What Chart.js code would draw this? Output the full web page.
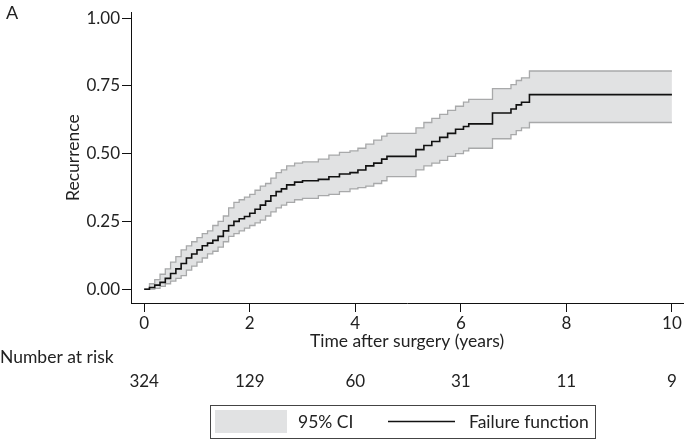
<!DOCTYPE html>
<html>
<head>
<meta charset="utf-8">
<script src="https://cdn.jsdelivr.net/npm/chart.js@4"></script>
<style>
  html, body { margin: 0; padding: 0; background: #fff; }
  #wrap { width: 687px; height: 444px; position: relative; }
</style>
</head>
<body>
<div id="wrap"><canvas id="myChart"></canvas></div>
<script>
// event times (years) and step values
const times = [0, 0.1, 0.2, 0.3, 0.4, 0.5, 0.6, 0.7, 0.8, 0.9, 1.0, 1.1, 1.2, 1.3, 1.4, 1.5, 1.6, 1.7, 1.8, 1.9,
  2.0, 2.1, 2.2, 2.3, 2.4, 2.5, 2.6, 2.7, 2.85, 3.0, 3.3, 3.5, 3.7, 3.9, 4.05, 4.2, 4.35, 4.5, 4.6,
  5.15, 5.3, 5.45, 5.6, 5.75, 5.9, 6.05, 6.15, 6.6, 6.95, 7.05, 7.15, 7.3, 10];
const failure = [0, 0.006, 0.015, 0.025, 0.04, 0.058, 0.075, 0.095, 0.115, 0.13, 0.145, 0.16, 0.17, 0.18, 0.195, 0.215, 0.235, 0.25, 0.26, 0.268,
  0.28, 0.295, 0.31, 0.325, 0.345, 0.36, 0.37, 0.385, 0.395, 0.40, 0.405, 0.415, 0.425, 0.43, 0.44, 0.455, 0.465, 0.48, 0.49,
  0.515, 0.53, 0.545, 0.56, 0.575, 0.59, 0.60, 0.61, 0.65, 0.665, 0.68, 0.69, 0.718, 0.718];
const ciHigh = [0, 0.02, 0.035, 0.055, 0.075, 0.10, 0.12, 0.145, 0.16, 0.175, 0.19, 0.205, 0.215, 0.235, 0.25, 0.27, 0.30, 0.32, 0.33, 0.34,
  0.35, 0.365, 0.38, 0.39, 0.41, 0.43, 0.44, 0.455, 0.465, 0.47, 0.48, 0.495, 0.505, 0.51, 0.52, 0.535, 0.55, 0.565, 0.575,
  0.595, 0.615, 0.63, 0.645, 0.66, 0.675, 0.69, 0.70, 0.74, 0.755, 0.77, 0.78, 0.805, 0.805];
const ciLow = [0, 0, 0.003, 0.01, 0.02, 0.03, 0.04, 0.05, 0.07, 0.085, 0.10, 0.115, 0.13, 0.14, 0.155, 0.175, 0.195, 0.205, 0.215, 0.225,
  0.235, 0.245, 0.255, 0.27, 0.285, 0.30, 0.31, 0.32, 0.33, 0.335, 0.345, 0.35, 0.36, 0.37, 0.375, 0.38, 0.39, 0.40, 0.415,
  0.44, 0.455, 0.465, 0.475, 0.49, 0.50, 0.51, 0.52, 0.555, 0.57, 0.585, 0.595, 0.615, 0.615];

const xTicks = [0, 2, 4, 6, 8, 10];
const yTicks = [0, 0.25, 0.5, 0.75, 1];
const atRisk = [324, 129, 60, 31, 11, 9];

const FONT = 'Lato, "Open Sans", sans-serif';
const TXT = '#222';
const BAND = '#e1e2e3';

function pts(vals) {
  return times.map(function (t, i) { return { x: t, y: vals[i] }; });
}

// number at risk row, the legend box and the panel letter
const extras = {
  id: 'extras',
  afterDraw(chart) {
    const ctx = chart.ctx;
    const x = chart.scales.x;
    ctx.save();
    ctx.fillStyle = TXT;
    ctx.font = '18px ' + FONT;
    ctx.textBaseline = 'middle';
    ctx.textAlign = 'left';
    ctx.fillText('A', 6, 13);
    ctx.font = '17.5px ' + FONT;
    ctx.fillText('Number at risk', 0, 357);
    ctx.textAlign = 'center';
    ctx.font = '17px ' + FONT;
    atRisk.forEach(function (n, i) {
      ctx.fillText(String(n), x.getPixelForValue(xTicks[i]), 382);
    });
    // legend
    ctx.strokeStyle = '#444';
    ctx.lineWidth = 1;
    ctx.strokeRect(210.5, 405.5, 385, 33);
    ctx.fillStyle = BAND;
    ctx.fillRect(215, 410, 72, 23);
    ctx.strokeStyle = '#111';
    ctx.lineWidth = 1.5;
    ctx.beginPath();
    ctx.moveTo(388, 421.5);
    ctx.lineTo(455, 421.5);
    ctx.stroke();
    ctx.fillStyle = TXT;
    ctx.textAlign = 'left';
    ctx.font = '17.5px ' + FONT;
    ctx.fillText('95% CI', 298, 422);
    ctx.fillText('Failure function', 469, 422);
    ctx.restore();
  }
};

const ctx = document.getElementById('myChart').getContext('2d');
const myChart = new Chart(ctx, {
  type: 'line',
  data: {
    datasets: [{
      label: '95% CI upper',
      data: pts(ciHigh),
      stepped: 'before',
      borderColor: '#a8a9aa',
      borderWidth: 1.3,
      backgroundColor: BAND,
      fill: '+1',
      pointRadius: 0,
      order: 2
    }, {
      label: '95% CI lower',
      data: pts(ciLow),
      stepped: 'before',
      borderColor: '#a8a9aa',
      borderWidth: 1.3,
      fill: false,
      pointRadius: 0,
      order: 1
    }, {
      label: 'Failure function',
      data: pts(failure),
      stepped: 'before',
      borderColor: '#111',
      borderWidth: 1.6,
      fill: false,
      pointRadius: 0,
      order: 0
    }]
  },
  plugins: [extras],
  options: {
    responsive: true,
    maintainAspectRatio: false,
    animation: false,
    layout: { padding: { top: 10, right: 4, left: 0, bottom: 81 } },
    plugins: {
      legend: { display: false },
      tooltip: { enabled: false }
    },
    scales: {
      x: {
        type: 'linear',
        min: -0.25,
        max: 10.21,
        afterFit: function (s) { s.height = 60; },
        afterBuildTicks: function (s) { s.ticks = xTicks.map(function (v) { return { value: v }; }); },
        grid: { drawOnChartArea: false, drawTicks: true, tickLength: 9, color: '#111' },
        border: { display: true, color: '#111', width: 1 },
        ticks: { color: TXT, font: { family: FONT, size: 17 }, padding: 1, maxRotation: 0 },
        title: {
          display: true,
          text: 'Time after surgery (years)',
          color: TXT,
          font: { family: FONT, size: 17.5 },
          padding: { top: 0, bottom: 11 }
        }
      },
      y: {
        min: -0.051,
        max: 1.022,
        afterFit: function (s) { s.width = 131; },
        afterBuildTicks: function (s) { s.ticks = yTicks.map(function (v) { return { value: v }; }); },
        grid: { drawOnChartArea: false, drawTicks: true, tickLength: 9, color: '#111' },
        border: { display: true, color: '#111', width: 1 },
        ticks: {
          color: TXT,
          font: { family: FONT, size: 17 },
          padding: 2,
          callback: function (v) { return Number(v).toFixed(2); }
        },
        title: {
          display: true,
          text: 'Recurrence',
          color: TXT,
          font: { family: FONT, size: 17.5 },
          padding: { top: 63, bottom: 0 }
        }
      }
    }
  }
});
</script>
</body>
</html>
